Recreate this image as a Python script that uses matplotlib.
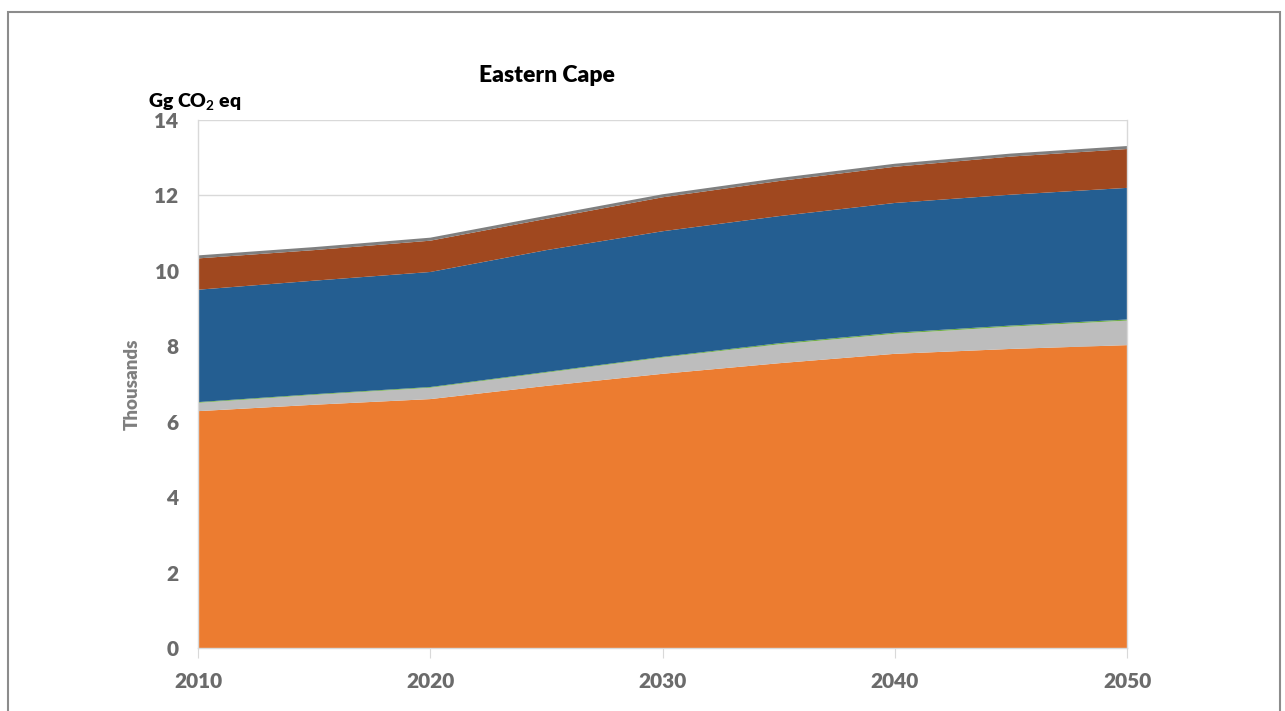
import matplotlib
matplotlib.use("Agg")
import matplotlib.pyplot as plt
from matplotlib.patches import Rectangle

plt.rcParams['font.family'] = ['Lato', 'DejaVu Sans']
plt.rcParams['mathtext.fontset'] = 'custom'
plt.rcParams['mathtext.rm'] = 'Lato'
plt.rcParams['mathtext.bf'] = 'Lato:bold'

years = [2010, 2015, 2020, 2025, 2030, 2035, 2040, 2045, 2050]
orange = [6.28, 6.45, 6.60, 6.95, 7.27, 7.55, 7.80, 7.93, 8.03]
light_grey = [0.22, 0.26, 0.30, 0.35, 0.43, 0.50, 0.53, 0.59, 0.65]
green = [0.02, 0.02, 0.02, 0.02, 0.02, 0.03, 0.03, 0.03, 0.03]
blue = [2.98, 3.01, 3.05, 3.23, 3.33, 3.37, 3.44, 3.47, 3.49]
brown = [0.83, 0.81, 0.83, 0.83, 0.90, 0.93, 0.96, 1.01, 1.03]
dark_grey = [0.08, 0.08, 0.08, 0.08, 0.08, 0.08, 0.08, 0.08, 0.08]

colors = ['#EC7C30', '#BDBDBD', '#70AD47', '#245E91', '#A0481F', '#7F7F7F']
xticks = [2010, 2020, 2030, 2040, 2050]
yticks = [0, 2, 4, 6, 8, 10, 12, 14]

fig = plt.figure(figsize=(12.85, 7.11), dpi=100)
ax = fig.add_axes([198/1285, 1-648/711, (1127-198)/1285, (648-120)/711])

ax.stackplot(years, orange, light_grey, green, blue, brown, dark_grey,
             colors=colors, linewidth=0, zorder=2)

ax.set_xlim(2010, 2050)
ax.set_ylim(0, 14)
ax.set_xticks(xticks)
ax.set_yticks(yticks)
ax.yaxis.grid(True, color='#D9D9D9', linewidth=1.0, zorder=0)
ax.set_axisbelow(True)

tick_color = '#6B6B6B'
for lab in ax.get_xticklabels() + ax.get_yticklabels():
    lab.set_fontweight('heavy')
    lab.set_color(tick_color)
    lab.set_fontsize(15)
ax.tick_params(axis='y', length=0, pad=14)
ax.tick_params(axis='x', length=7, color='#D9D9D9', direction='out', pad=10)

for side in ['left', 'right', 'bottom']:
    ax.spines[side].set_color('#D9D9D9')
    ax.spines[side].set_linewidth(1.0)
ax.spines['top'].set_visible(False)

ax.set_ylabel('Thousands', fontsize=13.5, fontweight='heavy', color='#7F7F7F', labelpad=10)

fig.text(547/1285, 1-75/711, 'Eastern Cape', fontsize=16.5, fontweight='heavy',
         ha='center', va='center', color='black')
fig.text(148/1285, 1-102/711, r'Gg CO$_\mathbf{2}$ eq', fontsize=14, fontweight='heavy',
         ha='left', va='center', color='black')

fig.patches.append(Rectangle((8/1285, -0.05), (1280-8)/1285, 1.05-12/711,
                             transform=fig.transFigure, fill=False,
                             edgecolor='#8C8C8C', linewidth=1.5))

fig.savefig('out.png', dpi=100)
